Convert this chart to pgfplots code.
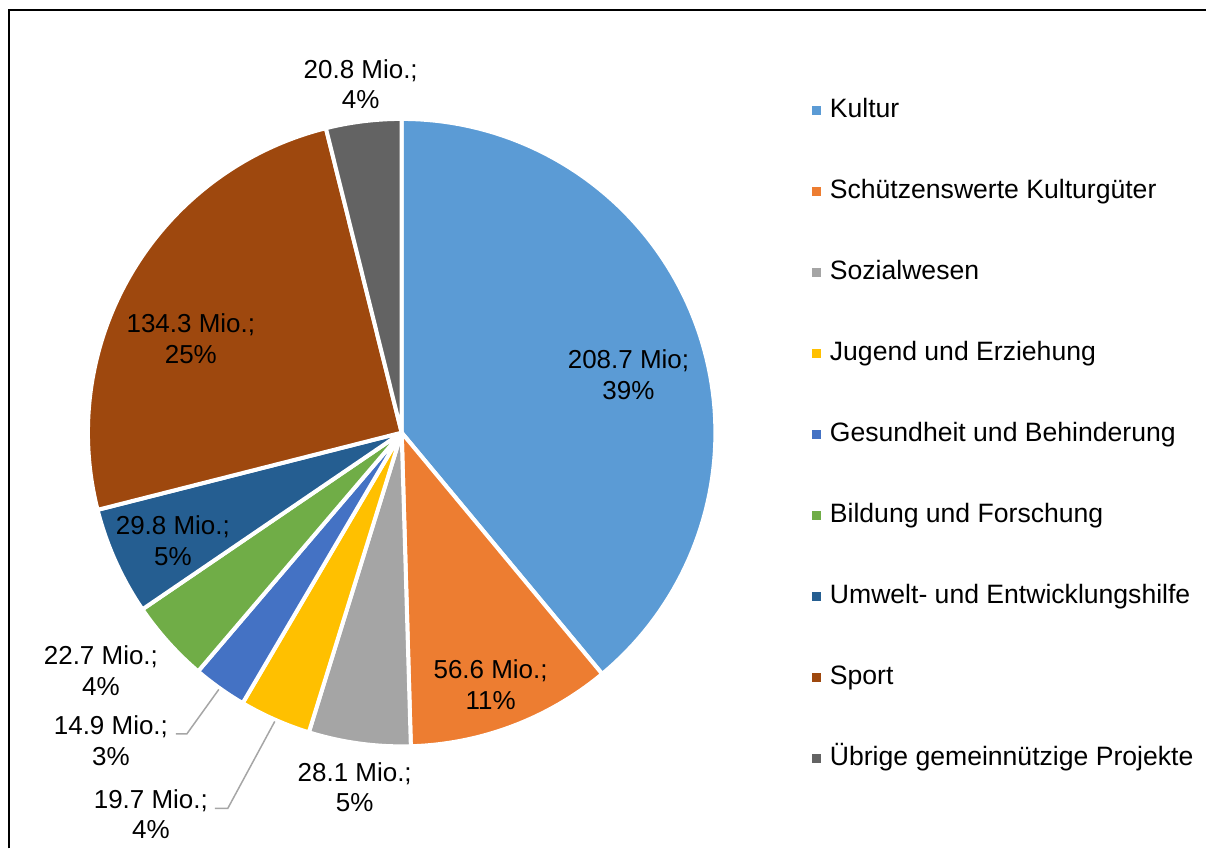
\documentclass[border=0pt]{standalone}
\usepackage{pgfplots}
\usepackage{pgfplotstable}
\pgfplotsset{compat=1.18}
\usepackage{fontspec}
\setmainfont{Liberation Sans}

\definecolor{c0}{HTML}{5B9BD5}
\definecolor{c1}{HTML}{ED7D31}
\definecolor{c2}{HTML}{A5A5A5}
\definecolor{c3}{HTML}{FFC000}
\definecolor{c4}{HTML}{4472C4}
\definecolor{c5}{HTML}{70AD47}
\definecolor{c6}{HTML}{255E91}
\definecolor{c7}{HTML}{9E480E}
\definecolor{c8}{HTML}{636363}
\definecolor{leader}{HTML}{A6A6A6}

% values in Mio.
\pgfplotstableread{
value
208.7
56.6
28.1
19.7
14.9
22.7
29.8
134.3
20.8
}\piedata

\pgfmathsetmacro\total{0}
\pgfplotsforeachungrouped \i in {0,...,8}{%
  \pgfplotstablegetelem{\i}{value}\of\piedata
  \pgfmathsetmacro\total{\total+\pgfplotsretval}%
}
\pgfmathsetmacro\degper{360/\total}
\def\cum{0}
\pgfplotsforeachungrouped \i in {0,...,8}{%
  \pgfplotstablegetelem{\i}{value}\of\piedata
  \pgfmathsetmacro\sa{90-\degper*\cum}%
  \pgfmathsetmacro\cum{\cum+\pgfplotsretval}%
  \pgfmathsetmacro\ea{90-\degper*\cum}%
  \expandafter\xdef\csname sa\i\endcsname{\sa}%
  \expandafter\xdef\csname ea\i\endcsname{\ea}%
}

\newcommand\lab[5]{%
  \node[anchor=base] at (axis cs:#1,#2) {#4};
  \node[anchor=base] at (axis cs:#1,#3) {#5};}

\begin{document}
\begin{tikzpicture}[font=\fontsize{13}{15.5}\selectfont]
\begin{axis}[
  scale only axis, width=603.5pt, height=424.5pt,
  xmin=0, xmax=1207, ymin=0, ymax=849, y dir=reverse,
  hide axis, clip=false,
  legend cell align=left,
  legend image code/.code={\path[#1,draw=none] (0pt,-2.25pt) rectangle (4.5pt,2.25pt);},
  legend style={draw=none, fill=none, inner sep=0pt, outer sep=0pt,
    at={(axis cs:813,98)}, anchor=north west, row sep=27.5pt,
    font=\fontsize{13.3}{15.5}\selectfont,
    nodes={inner sep=0pt, text height=10pt, text depth=3pt},
    /tikz/every odd column/.append style={column sep=4.3pt}},
]
% full canvas (keeps the picture's bounding box equal to the chart area)
\addplot[forget plot, draw=none] coordinates {(0,0) (1207,849)};

\pgfplotsforeachungrouped \i in {0,...,8}{%
  \edef\tmp{\noexpand\addplot[fill=c\i, draw=white, line width=2pt, line join=round,
     samples at={-1,0,1,...,90,91}]
     ({402+and(x>-0.5,x<90.5)*314*cos(\csname sa\i\endcsname+((\csname ea\i\endcsname)-(\csname sa\i\endcsname))*x/90)},
      {433-and(x>-0.5,x<90.5)*314*sin(\csname sa\i\endcsname+((\csname ea\i\endcsname)-(\csname sa\i\endcsname))*x/90)});}%
  \tmp
}
\legend{Kultur, Schützenswerte Kulturgüter, Sozialwesen, Jugend und Erziehung,
  Gesundheit und Behinderung, Bildung und Forschung, Umwelt- und Entwicklungshilfe,
  Sport, Übrige gemeinnützige Projekte}

% leader lines
\addplot[forget plot, leader, line width=0.75pt] coordinates {(176,734.5) (187,734.5) (219,690)};
\addplot[forget plot, leader, line width=0.75pt] coordinates {(215,809) (228,809) (275,722)};

% frame
\addplot[forget plot, black, line width=1pt] coordinates {(9.5,849) (9.5,10) (1207,10)};

% data labels
\lab{629}{369}{400}{208.7 Mio;}{39\%}
\lab{491}{679}{710}{56.6 Mio.;}{11\%}
\lab{355}{782}{812}{28.1 Mio.;}{5\%}
\lab{151}{809}{839}{19.7 Mio.;}{4\%}
\lab{111}{735}{766}{14.9 Mio.;}{3\%}
\lab{101}{665}{696}{22.7 Mio.;}{4\%}
\lab{173}{535}{566}{29.8 Mio.;}{5\%}
\lab{191}{333}{364}{134.3 Mio.;}{25\%}
\lab{361}{79}{109}{20.8 Mio.;}{4\%}
\end{axis}
\end{tikzpicture}
\end{document}
